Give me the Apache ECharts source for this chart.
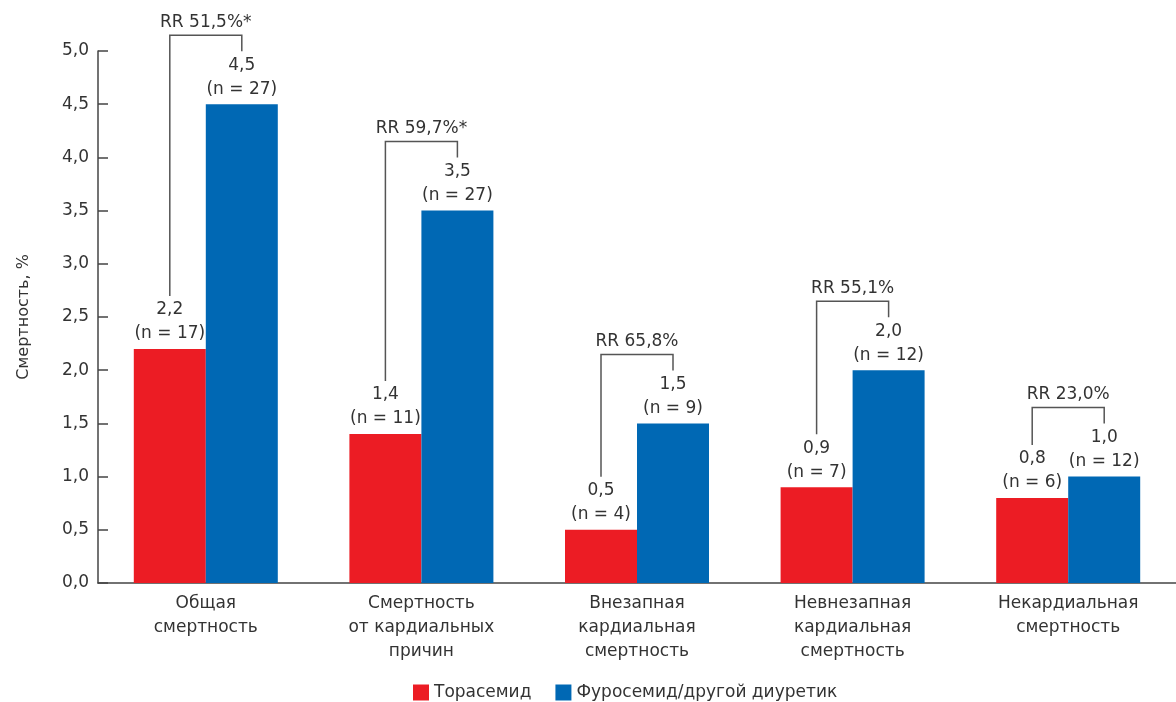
<!DOCTYPE html>
<html>
<head>
<meta charset="utf-8">
<script src="https://cdn.jsdelivr.net/npm/echarts@6/dist/echarts.min.js"></script>
<style>
  html, body { margin: 0; padding: 0; background: #fff; }
  #chart { width: 1176px; height: 702px; }
</style>
</head>
<body>
<div id="chart"></div>
<script>
const categories = [
  'Общая\nсмертность',
  'Смертность\nот кардиальных\nпричин',
  'Внезапная\nкардиальная\nсмертность',
  'Невнезапная\nкардиальная\nсмертность',
  'Некардиальная\nсмертность'
];
const torasemide = [2.2, 1.4, 0.5, 0.9, 0.8];
const torasemideN = [17, 11, 4, 7, 6];
const furosemide = [4.5, 3.5, 1.5, 2.0, 1.0];
const furosemideN = [27, 27, 9, 12, 12];
const rrLabels = ['RR 51,5%*', 'RR 59,7%*', 'RR 65,8%', 'RR 55,1%', 'RR 23,0%'];
const yTicks = { min: 0, max: 5, step: 0.5 };

const RED = '#ec1c24';
const BLUE = '#0068b4';
const TEXT = '#333333';
const FONT = 'DejaVu Sans';
const FS = 17;
const BAR_W = 72;

function fmt(v) {
  return v.toFixed(1).replace('.', ',');
}

const chart = echarts.init(document.getElementById('chart'), null, { renderer: 'canvas' });

function barLabel(counts) {
  return {
    show: true,
    position: 'top',
    distance: 3,
    color: TEXT,
    fontFamily: FONT,
    fontSize: FS,
    lineHeight: 24,
    formatter: function(p) {
      return fmt(p.value) + '\n(n = ' + counts[p.dataIndex] + ')';
    }
  };
}

// brackets over each pair of bars, positioned from the bar values
const bracketData = categories.map(function(c, i) {
  return [i, torasemide[i], furosemide[i], rrLabels[i]];
});

function renderBracket(params, api) {
  const i = api.value(0);
  const redTop = api.coord([i, api.value(1)]);
  const blueTop = api.coord([i, api.value(2)]);
  const cx = redTop[0];
  const xl = cx - BAR_W / 2;
  const xr = cx + BAR_W / 2;
  const yl = redTop[1] - 53;
  const yr = blueTop[1] - 53;
  const yt = Math.min(yl, yr) - 16;
  return {
    type: 'group',
    children: [
      {
        type: 'polyline',
        shape: { points: [[xl, yl], [xl, yt], [xr, yt], [xr, yr]] },
        style: { stroke: '#555', lineWidth: 1.5, fill: null }
      },
      {
        type: 'text',
        style: {
          text: bracketData[params.dataIndex][3],
          x: cx,
          y: yt - 13,
          align: 'center',
          verticalAlign: 'middle',
          fill: TEXT,
          font: FS + 'px "' + FONT + '"'
        }
      }
    ]
  };
}

chart.setOption({
  animation: false,
  backgroundColor: '#fff',
  textStyle: { fontFamily: FONT },
  grid: { left: 98, right: 0, top: 51, bottom: 119 },
  legend: {
    top: 679,
    left: 408,
    padding: 5,
    itemWidth: 16,
    itemHeight: 16,
    itemGap: 24,
    icon: 'rect',
    textStyle: { color: TEXT, fontSize: FS, fontFamily: FONT },
    data: ['Торасемид', 'Фуросемид/другой диуретик']
  },
  xAxis: {
    type: 'category',
    data: categories,
    axisLine: { lineStyle: { color: '#444', width: 1.5 } },
    axisTick: { show: false },
    axisLabel: {
      color: TEXT,
      fontSize: FS,
      lineHeight: 24,
      margin: 9,
      fontFamily: FONT,
      interval: 0
    }
  },
  yAxis: {
    type: 'value',
    min: yTicks.min,
    max: yTicks.max,
    interval: yTicks.step,
    name: 'Смертность, %',
    nameLocation: 'middle',
    nameGap: 66,
    nameTextStyle: { color: TEXT, fontSize: 16, fontFamily: FONT },
    splitLine: { show: false },
    axisLine: { show: true, lineStyle: { color: '#444', width: 1.5 } },
    axisTick: { show: true, inside: true, length: 10, lineStyle: { color: '#444', width: 1.5 } },
    axisLabel: {
      color: TEXT,
      fontSize: FS,
      margin: 9,
      fontFamily: FONT,
      formatter: function(v) { return fmt(v); }
    }
  },
  series: [
    {
      name: 'Торасемид',
      type: 'bar',
      barWidth: BAR_W,
      barGap: '0%',
      itemStyle: { color: RED },
      label: barLabel(torasemideN),
      data: torasemide
    },
    {
      name: 'Фуросемид/другой диуретик',
      type: 'bar',
      barWidth: BAR_W,
      barGap: '0%',
      itemStyle: { color: BLUE },
      label: barLabel(furosemideN),
      data: furosemide
    },
    {
      name: 'brackets',
      type: 'custom',
      clip: false,
      silent: true,
      renderItem: renderBracket,
      encode: { x: 0, y: 1 },
      data: bracketData,
      z: 5
    }
  ]
});
</script>
</body>
</html>
